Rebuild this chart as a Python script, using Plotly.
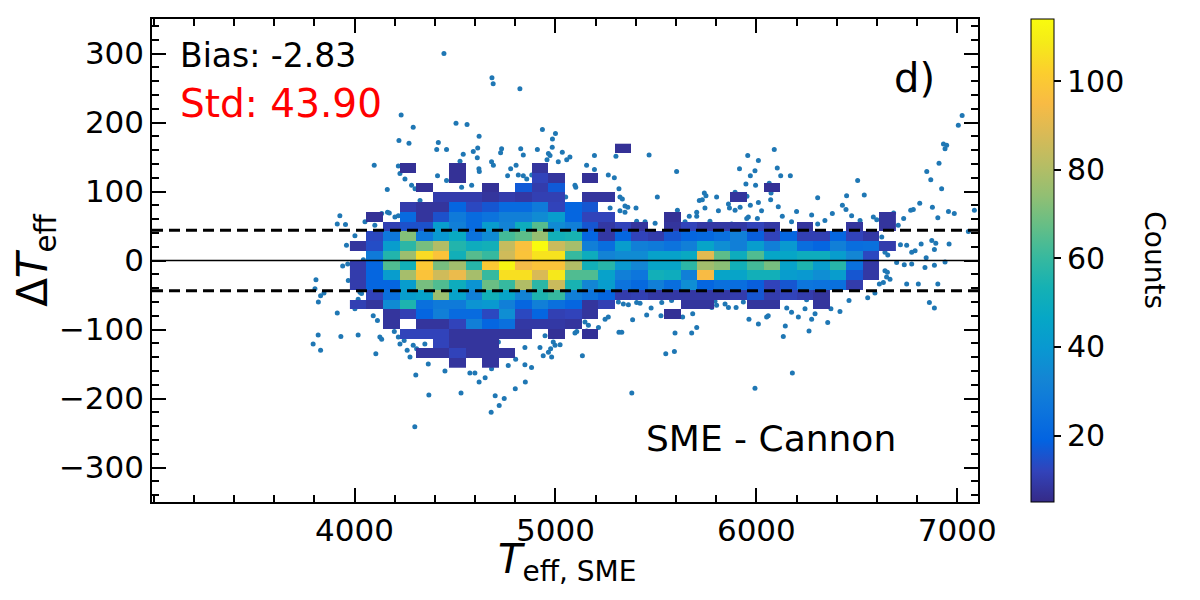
"""SME vs Cannon Teff residuals: 2D histogram with sparse points."""

import plotly.graph_objects as go

# bin centres of the 2D histogram (Teff_SME, Delta Teff)
TEFF_BINS = [4018, 4100, 4183, 4265, 4347, 4430, 4512, 4594, 4677, 4759, 4841,
             4923, 5006, 5088, 5170, 5253, 5335, 5417, 5500, 5582, 5664, 5746,
             5829, 5911, 5993, 6076, 6158, 6240, 6323, 6405, 6487, 6570, 6652]
DTEFF_BINS = [162.2, 148.1, 134.0, 119.9, 105.8, 91.7, 77.6, 63.5, 49.4, 35.3,
              21.2, 7.1, -7.1, -21.2, -35.3, -49.4, -63.5, -77.6, -91.7,
              -105.8, -119.9, -134.0, -148.1]

# counts per bin, top row first (0 = bin not drawn)
COUNTS = [
    [0, 0, 0, 0, 0, 0, 0, 0, 0, 0, 0, 0, 0, 0, 0, 0, 7, 0, 0, 0, 0, 0, 0, 0, 0, 0, 0, 0, 0, 0, 0, 0, 0],
    [0, 0, 0, 0, 0, 0, 0, 0, 0, 0, 0, 0, 0, 0, 0, 0, 0, 0, 0, 0, 0, 0, 0, 0, 0, 0, 0, 0, 0, 0, 0, 0, 0],
    [0, 0, 0, 7, 0, 0, 7, 0, 0, 0, 0, 8, 0, 0, 0, 0, 0, 0, 0, 0, 0, 0, 0, 0, 0, 0, 0, 0, 0, 0, 0, 0, 0],
    [0, 0, 0, 0, 0, 0, 7, 0, 0, 0, 0, 12, 8, 0, 7, 0, 0, 0, 0, 0, 0, 0, 0, 0, 0, 0, 0, 0, 0, 0, 0, 0, 0],
    [0, 0, 0, 0, 7, 0, 0, 0, 7, 0, 17, 10, 17, 0, 0, 0, 0, 0, 0, 0, 0, 0, 0, 0, 0, 7, 0, 0, 0, 0, 0, 0, 0],
    [0, 0, 0, 0, 0, 10, 10, 10, 8, 10, 9, 11, 11, 0, 8, 8, 0, 0, 0, 0, 0, 0, 0, 8, 0, 0, 0, 0, 0, 0, 0, 0, 0],
    [0, 0, 0, 10, 8, 8, 20, 13, 16, 22, 22, 28, 12, 20, 16, 0, 0, 0, 0, 0, 0, 0, 0, 0, 0, 0, 0, 0, 0, 0, 0, 0, 0],
    [0, 7, 0, 22, 8, 15, 28, 22, 25, 30, 30, 35, 42, 20, 12, 12, 0, 0, 0, 7, 0, 0, 0, 0, 0, 0, 0, 0, 0, 0, 0, 0, 8],
    [0, 0, 11, 15, 15, 42, 30, 22, 42, 32, 50, 65, 35, 30, 16, 9, 12, 8, 0, 8, 12, 9, 9, 9, 12, 9, 0, 8, 0, 0, 8, 0, 8],
    [0, 13, 27, 72, 27, 40, 48, 25, 35, 62, 66, 75, 52, 54, 20, 9, 20, 12, 10, 16, 20, 21, 24, 30, 18, 12, 20, 11, 11, 20, 12, 9, 0],
    [8, 14, 42, 58, 70, 80, 56, 50, 52, 84, 97, 114, 85, 78, 30, 23, 42, 30, 28, 25, 30, 45, 36, 30, 42, 30, 40, 23, 20, 30, 23, 24, 10],
    [0, 28, 56, 76, 105, 98, 52, 65, 60, 86, 98, 107, 107, 60, 50, 32, 35, 35, 44, 44, 48, 90, 66, 50, 64, 46, 46, 50, 50, 42, 33, 13, 0],
    [10, 20, 64, 52, 100, 70, 77, 57, 100, 112, 94, 98, 98, 80, 52, 57, 40, 33, 45, 45, 58, 77, 73, 52, 62, 70, 44, 55, 42, 57, 24, 9, 0],
    [10, 20, 42, 78, 98, 86, 92, 78, 60, 106, 106, 88, 108, 64, 64, 44, 30, 26, 52, 50, 30, 95, 45, 45, 52, 52, 42, 40, 36, 42, 16, 9, 0],
    [10, 20, 20, 42, 70, 64, 50, 38, 68, 60, 80, 58, 85, 54, 33, 42, 25, 21, 30, 23, 36, 20, 24, 23, 18, 12, 16, 26, 25, 24, 10, 0, 0],
    [0, 12, 24, 42, 44, 76, 44, 30, 52, 45, 32, 55, 60, 30, 25, 20, 10, 11, 9, 9, 9, 9, 9, 10, 16, 10, 12, 10, 8, 0, 0, 0, 0],
    [11, 8, 35, 55, 24, 28, 28, 38, 40, 30, 20, 30, 24, 20, 8, 11, 0, 0, 0, 0, 8, 8, 0, 0, 8, 8, 0, 0, 8, 0, 0, 0, 0],
    [0, 0, 8, 11, 20, 30, 22, 22, 13, 36, 13, 20, 11, 12, 8, 0, 0, 0, 0, 7, 0, 0, 0, 0, 0, 0, 0, 0, 0, 0, 0, 0, 0],
    [0, 0, 8, 0, 8, 8, 12, 30, 20, 24, 9, 9, 9, 8, 0, 0, 0, 0, 0, 0, 0, 0, 0, 0, 0, 0, 0, 0, 0, 0, 0, 0, 0],
    [0, 0, 0, 12, 12, 12, 8, 8, 8, 8, 8, 0, 7, 0, 7, 0, 0, 0, 0, 0, 0, 0, 0, 0, 0, 0, 0, 0, 0, 0, 0, 0, 0],
    [0, 0, 0, 0, 0, 12, 8, 8, 8, 0, 0, 0, 0, 0, 0, 0, 0, 0, 0, 0, 0, 0, 0, 0, 0, 0, 0, 0, 0, 0, 0, 0, 0],
    [0, 0, 0, 0, 8, 8, 12, 8, 8, 8, 0, 0, 0, 0, 0, 0, 0, 0, 0, 0, 0, 0, 0, 0, 0, 0, 0, 0, 0, 0, 0, 0, 0],
    [0, 0, 0, 0, 0, 0, 8, 0, 8, 0, 0, 0, 0, 0, 0, 0, 0, 0, 0, 0, 0, 0, 0, 0, 0, 0, 0, 0, 0, 0, 0, 0, 0],
]

# stars in sparse bins, drawn as individual points
SPARSE_TEFF = [
    # upper left / top
    4232, 4292, 4445, 4684, 4690, 4823, 4505, 4560, 4620, 4935, 5000, 4985,
    4221, 4271, 4417, 4409, 4458, 4541, 4525, 4591, 4613, 4611, 4732, 4727,
    4827, 4840, 4910, 4958, 4973, 4948,
    4098, 4218, 4226, 4251, 4163, 4284, 4301, 4326, 4413, 4458, 4533, 4583,
    4619, 4621, 4682, 4691, 4762, 4777, 4804, 4815, 4840, 4857, 4882, 4931,
    4956, 4978,
    # left edge
    4164, 4201, 4218, 4101, 4052, 4002, 3960, 4173, 4135, 3927, 3914, 3955,
    4094, 4060, 4094, 4044, 3941, 3966, 4047, 4060, 3808, 3803, 3831, 3820,
    3848, 3914, 4018, 4035, 4093, 4114, 4018, 3969, 4027, 4002,
    # lower left
    3819, 3794, 3831, 3932, 4018, 4126, 4135, 4106, 4198, 4247, 4262, 4292,
    4305, 4300, 4184, 4218, 4226, 4309, 4350, 4276, 4367, 4450, 4574, 4599,
    4682, 4765, 4802, 4848, 4881, 4939, 4989, 4848, 4923, 4948, 4981, 4716,
    4370, 4530, 4620, 4650, 4680, 4720, 4745, 4700, 4800, 4850, 5380,
    # middle top
    4984, 4965, 5014, 5034, 5056, 5072, 5097, 5101, 5155, 5194, 5194, 5263,
    5293, 5301, 5316, 5321, 5333, 5346, 5360, 5321, 5346, 5272, 5255, 5227,
    5401, 5404, 5466, 5507, 5603, 5607, 5496, 5666, 5703, 5716, 5731, 5741,
    5749, 5744, 5769, 5811, 5861, 5866, 5894, 5916, 5930, 5877, 5051, 5446,
    5645, 5703, 5894, 5919, 5952, 5802,
    # middle bottom
    5363, 5384, 5316, 5330, 5263, 5247, 5214, 5164, 5155, 5147, 5097, 5106,
    5023, 4998, 4976, 4965, 4981, 5134, 5404, 5421, 5454, 5476, 5525, 5549,
    5592, 5595, 5678, 5703, 5633, 5683, 5728, 5778, 5802, 5861, 5899, 5313,
    5338, 5529, 5578, 5794, 5844, 5935,
    # right top
    5957, 6010, 6089, 6104, 5993, 6121, 6169, 5970, 5948, 5996, 6064, 6073,
    5953, 6010, 6109, 6071, 5970, 6026, 5960, 6005, 6200, 6305, 6449, 6537,
    6504, 6428, 6446, 6378, 6341, 6305, 6275, 6129, 6175, 6474, 6516, 6582,
    6599, 6683, 6706, 6733, 6768, 6781, 6813, 6848, 6868, 6909, 6931, 6939,
    6947, 6922, 6876, 6903, 6956, 6985, 7024, 7005, 7055, 7085,
    # right band and below
    6624, 6654, 6717, 6748, 6773, 6790, 6820, 6873, 6893, 6886, 6959, 6939,
    6845, 6640, 6698, 6736, 6773, 6839, 6886, 6640, 6648, 6665, 6632, 6748,
    6806, 6903, 6590, 6554, 6861, 6886, 6461, 6416, 6371, 6355, 6275, 6292,
    6262, 6242, 6209, 6175, 6151, 6134, 6144, 6059, 6051, 6010, 5963, 6179,
    6250, 6325, 5993, 6612, 6652,
]
SPARSE_DTEFF = [
    # upper left / top
    211, 193, 300, 265, 256, 249, 199, 197, 180, 190, 184, 176,
    174, 170, 171, 161, 161, 154, 144, 158, 163, 149, 162, 156,
    162, 153, 161, 146, 152, 135,
    138, 137, 126, 118, 103, 109, 104, 87, 123, 116, 106, 109,
    133, 129, 143, 138, 123, 133, 138, 124, 123, 118, 124, 101,
    113, 110,
    # left edge
    70, 63, 65, 51, 56, 36, 22, 69, 68, 65, 53, 52,
    36, 22, 17, 1, -8, -5, -21, -34, -28, -41, -51, -60,
    -47, -76, -56, -48, -80, -87, -10, -29, -46, -70,
    # lower left
    -108, -121, -130, -110, -108, -111, -114, -135, -103, -116, -130, -123,
    -166, -241, -92, -111, -121, -128, -121, -140, -150, -160, -163, -163,
    -157, -152, -143, -151, -155, -138, -118, -126, -126, -109, -97, -118,
    -195, -192, -176, -170, -220, -210, -200, -196, -186, -176, -192,
    # middle top
    164, 155, 143, 157, 146, 150, 109, 106, 138, 132, 152, 124,
    120, 151, 104, 92, 89, 79, 77, 72, 70, 76, 65, 59,
    76, 57, 153, 92, 129, 73, 54, 64, 64, 87, 88, 98,
    94, 76, 57, 72, 82, 76, 99, 133, 51, 53, 92, 56,
    56, 70, 73, 77, 61, 92,
    # middle bottom
    -64, -86, -104, -104, -82, -85, -97, -94, -102, -89, -105, -103,
    -122, -123, -128, -133, -140, -138, -61, -62, -79, -69, -80, -135,
    -132, -105, -105, -97, -82, -77, -63, -68, -65, -68, -68, -60,
    -63, -61, -58, -59, -63, -60,
    # right top
    152, 145, 161, 134, 130, 123, 123, 123, 111, 109, 112, 98,
    93, 84, 78, 88, 80, 72, 63, 61, 71, 91, 94, 95,
    116, 80, 74, 68, 58, 53, 66, 64, 56, 65, 58, 63,
    59, 69, 51, 61, 73, 74, 83, 129, 117, 141, 169, 162,
    167, 104, 77, 62, 71, 68, 210, 196, 42, 73,
    # right band and below
    34, 8, 23, 22, 12, 14, 24, 29, 25, 16, 24, -2,
    4, 12, -3, -6, -5, -10, -7, -15, -24, -27, -32, -34,
    -34, -34, -47, -54, -61, -69, -58, -74, -70, -90, -85, -77,
    -102, -70, -82, -75, -69, -110, -95, -80, -82, -92, -85, -163,
    -57, -64, -185, -34, -17,
]

BIAS = -2.83
STD = 43.90

PARULA = [
    [0 / 63, "#352a87"], [4 / 63, "#3243ba"], [8 / 63, "#0363e1"],
    [12 / 63, "#0d75dc"], [16 / 63, "#1485d4"], [20 / 63, "#0998d1"],
    [24 / 63, "#06a7c6"], [28 / 63, "#15b1b4"], [32 / 63, "#38b99e"],
    [36 / 63, "#65be86"], [40 / 63, "#92bf73"], [44 / 63, "#b7bd64"],
    [48 / 63, "#d9ba56"], [52 / 63, "#f8bb44"], [56 / 63, "#fcce2e"],
    [60 / 63, "#f5eb18"], [1.0, "#f9fb0e"],
]

FONT = "DejaVu Sans"
X_RANGE = [2992, 7103]
Y_RANGE = [-350, 350]

fig = go.Figure()

fig.add_trace(go.Scatter(
    x=SPARSE_TEFF,
    y=SPARSE_DTEFF,
    mode="markers",
    marker=dict(color="#1f77b4", size=5, line=dict(width=0)),
    hoverinfo="skip",
))

# histogram on an overlaid axis pair so it sits on top of the points
z = [[c if c else None for c in row] for row in COUNTS[::-1]]
fig.add_trace(go.Heatmap(
    x=TEFF_BINS,
    y=DTEFF_BINS[::-1],
    z=z,
    xaxis="x2",
    yaxis="y2",
    colorscale=PARULA,
    zmin=5,
    zmax=114,
    colorbar=dict(
        x=1.0642, xanchor="left", y=0.5, yanchor="middle",
        len=1, lenmode="fraction", thickness=23,
        outlinewidth=1, outlinecolor="black",
        ticks="outside", ticklen=7, tickwidth=1.5, tickcolor="black",
        tickvals=[20, 40, 60, 80, 100],
        tickfont=dict(family=FONT, size=30, color="black"),
        xpad=0, ypad=0,
    ),
    hoverinfo="skip",
))

axis_common = dict(
    showline=True, linecolor="black", linewidth=1.5, mirror="allticks",
    ticks="inside", ticklen=14, tickwidth=2, tickcolor="black",
    showgrid=False, zeroline=False, automargin=False,
    tickfont=dict(family=FONT, size=31, color="black"),
)

# the page body adds an 8px offset, so the figure is 8px short each way
fig.update_layout(
    width=1192,
    height=592,
    margin=dict(l=144, r=222, t=11, b=98),
    plot_bgcolor="white",
    paper_bgcolor="white",
    font=dict(family=FONT, color="black"),
    showlegend=False,
    xaxis=dict(
        range=X_RANGE,
        tickvals=[4000, 5000, 6000, 7000],
        minor=dict(dtick=200, tick0=0, ticks="inside", ticklen=7,
                   tickwidth=1.5, tickcolor="black", showgrid=False),
        **axis_common,
    ),
    yaxis=dict(
        range=Y_RANGE,
        tickvals=[-300, -200, -100, 0, 100, 200, 300],
        minor=dict(dtick=20, tick0=0, ticks="inside", ticklen=7,
                   tickwidth=1.5, tickcolor="black", showgrid=False),
        title=dict(text="Δ<i>T</i><sub>eff</sub>",
                   font=dict(family=FONT, size=42), standoff=6),
        **axis_common,
    ),
    xaxis2=dict(range=X_RANGE, overlaying="x", visible=False),
    yaxis2=dict(range=Y_RANGE, overlaying="y", visible=False),
)

# zero line and +/- std band
fig.add_shape(type="line", xref="paper", x0=0, x1=1, yref="y", y0=0, y1=0,
              line=dict(color="black", width=1.3), layer="above")
for level in (STD, -STD):
    fig.add_shape(type="line", xref="paper", x0=0, x1=1, yref="y",
                  y0=level, y1=level, layer="above",
                  line=dict(color="black", width=3, dash="11px,6px"))

# x axis title placed by hand to sit just under the tick labels
fig.add_annotation(text="<i>T</i><sub>eff, SME</sub>", xref="paper", yref="paper",
                   x=0.503, y=-0.124, xanchor="center", yanchor="middle",
                   showarrow=False, font=dict(family=FONT, size=40, color="black"))

fig.add_annotation(text=f"Bias: {BIAS:.2f}", xref="paper", yref="paper",
                   x=0.031, y=0.925, xanchor="left", yanchor="middle",
                   showarrow=False, font=dict(family=FONT, size=33, color="black"))
fig.add_annotation(text=f"Std: {STD:.2f}", xref="paper", yref="paper",
                   x=0.031, y=0.826, xanchor="left", yanchor="middle",
                   showarrow=False, font=dict(family=FONT, size=39, color="red"))
fig.add_annotation(text="d)", xref="paper", yref="paper",
                   x=0.950, y=0.878, xanchor="right", yanchor="middle",
                   showarrow=False, font=dict(family=FONT, size=40, color="black"))
fig.add_annotation(text="SME - Cannon", xref="paper", yref="paper",
                   x=0.903, y=0.1325, xanchor="right", yanchor="middle",
                   showarrow=False, font=dict(family=FONT, size=36, color="black"))
fig.add_annotation(text="Counts", xref="paper", yref="paper",
                   x=1.214, y=0.501, xanchor="center", yanchor="middle",
                   textangle=90, showarrow=False,
                   font=dict(family=FONT, size=28, color="black"))

fig.write_html("out.html")
